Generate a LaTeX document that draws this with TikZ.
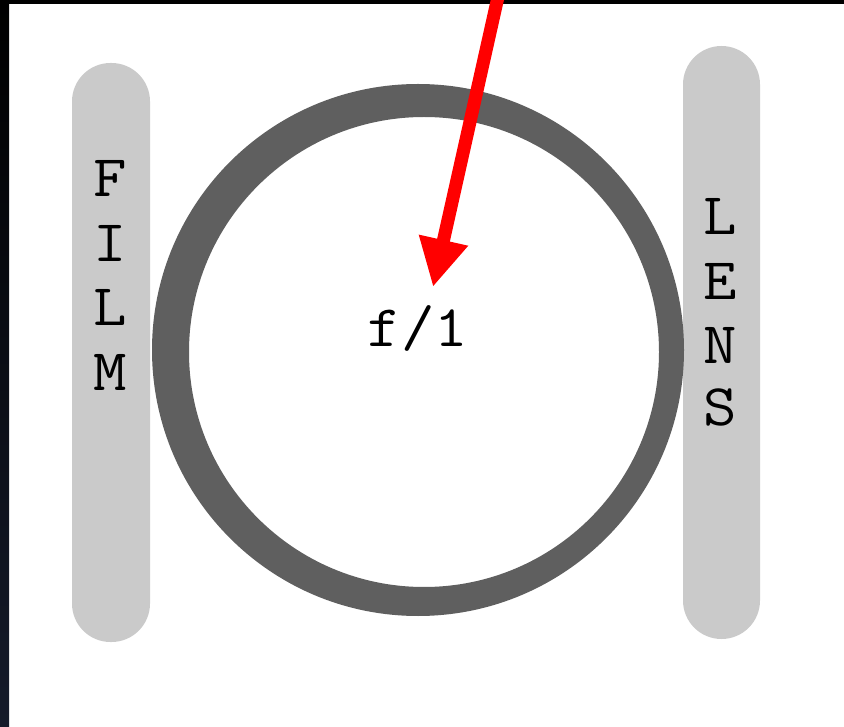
\documentclass[tikz,border=0pt]{standalone}
\usepackage{fontspec}
\usepackage{graphicx}
\usetikzlibrary{arrows.meta}
\definecolor{barg}{HTML}{CACACA}
\definecolor{ringg}{HTML}{5F5F5F}
\definecolor{edgebot}{HTML}{151B2A}
\tikzset{
  bar/.style={fill=barg, rounded corners=38.5pt},
  ringfill/.style={fill=ringg, even odd rule},
  letter/.style={anchor=base, inner sep=0pt, font=\ttfamily\fontsize{59}{64}\selectfont},
  redarrow/.style={draw=red, line width=13pt, -{Triangle[length=48pt,width=47pt]}},
}
\newcommand{\wide}[1]{\scalebox{1.1}[1]{#1}}
\begin{document}
\begin{tikzpicture}[x=1pt,y=-1pt]
  \useasboundingbox (0,0) rectangle (844,727);
  \clip (0,0) rectangle (844,727);
  \fill[white] (0,0) rectangle (844,727);
  % dark frame edges
  \fill[top color=black, bottom color=edgebot] (0,0) rectangle (9,727);
  \fill[black] (0,0) rectangle (844,4);
  % bars
  \fill[bar] (72,63) rectangle (150,642);
  \fill[bar] (683,46) rectangle (760,639);
  % ring
  \fill[ringfill] (418,350) circle (266) (424,352) circle (235);
  % FILM
  \foreach \ch/\y [count=\i] in {F/197,I/262,L/326,M/391}
    \node[letter] (film\i) at (110,\y) {\wide{\ch}};
  % LENS
  \foreach \ch/\y [count=\i] in {L/235,E/300,N/364,S/426}
    \node[letter] (lens\i) at (720,\y) {\wide{\ch}};
  % f/1
  \node[letter] (fnum) at (418,347) {\wide{f/1}};
  % arrow
  \coordinate (astart) at (500,-12);
  \coordinate (tip) at (433,287);
  \draw[redarrow] (astart) -- (tip);
\end{tikzpicture}
\end{document}
